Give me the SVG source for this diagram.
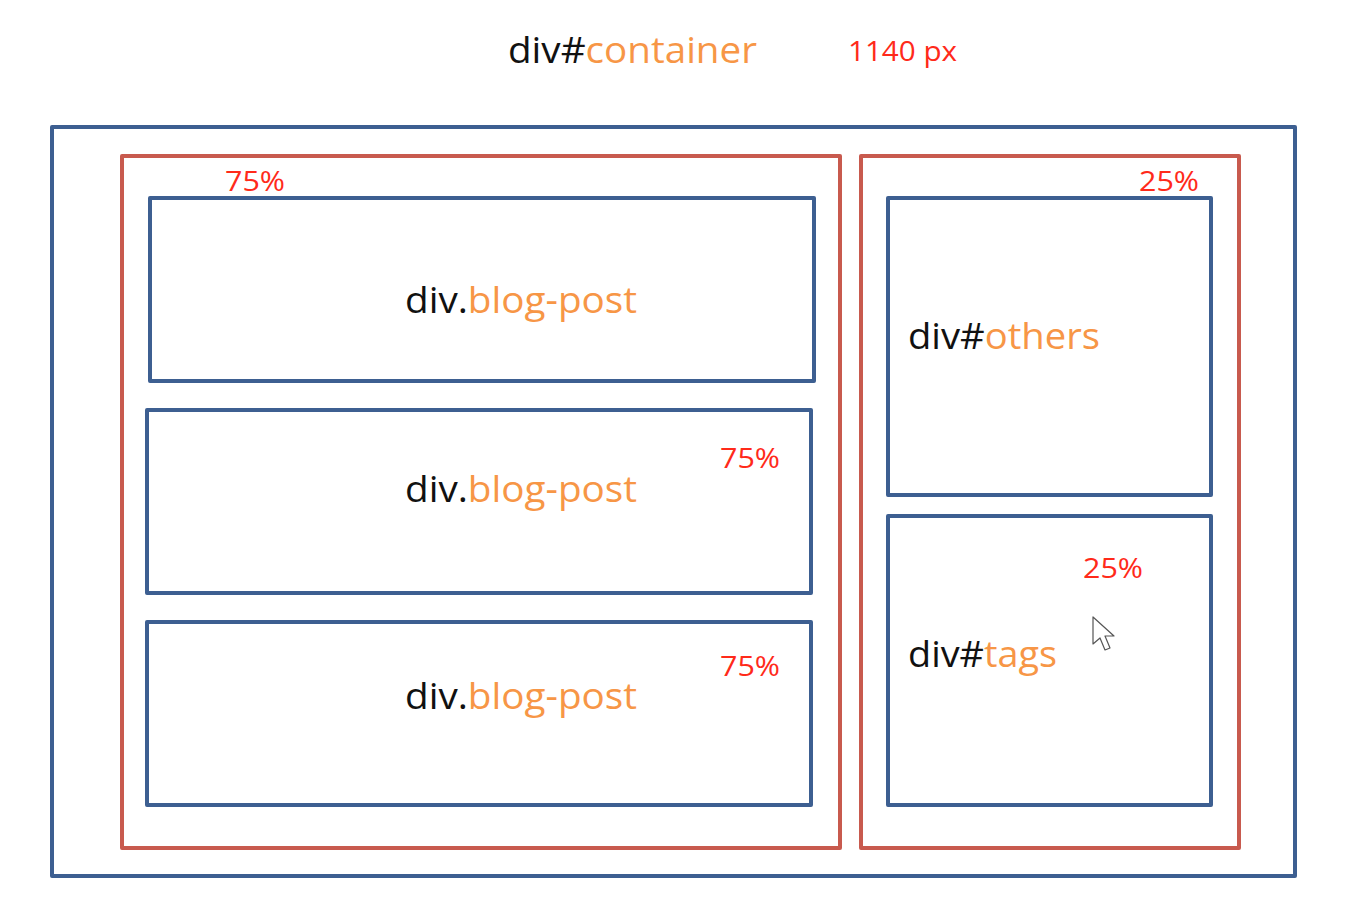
<svg xmlns="http://www.w3.org/2000/svg" width="1351" height="909" viewBox="0 0 1351 909">
<style>
.blue{fill:none;stroke:#3D5F91;stroke-width:4;stroke-linejoin:round}
.red{fill:none;stroke:#C85A4E;stroke-width:4;stroke-linejoin:round}
.lbl{font-family:"Open Sans","Noto Sans",sans-serif;font-size:36px;fill:#111111}
.or{fill:#F79646}
.pct{font-family:"Open Sans","Noto Sans",sans-serif;font-size:27px;fill:#FF2A1A}
</style>
<rect width="1351" height="909" fill="#FFFFFF"/>
<g id="title">
<text class="lbl" x="508" y="63" textLength="249" lengthAdjust="spacingAndGlyphs">div#<tspan class="or">container</tspan></text>
<text class="pct" x="848" y="61" textLength="109" lengthAdjust="spacingAndGlyphs">1140 px</text>
</g>
<g id="container">
<rect class="blue" x="52" y="127" width="1243" height="749"/>
</g>
<g id="main">
<rect class="red" x="122" y="156" width="718" height="692"/>
<text class="pct" x="225" y="191" textLength="60" lengthAdjust="spacingAndGlyphs">75%</text>
</g>
<g id="sidebar">
<rect class="red" x="861" y="156" width="378" height="692"/>
<text class="pct" x="1139" y="191" textLength="60" lengthAdjust="spacingAndGlyphs">25%</text>
</g>
<g id="blog-post-1">
<rect class="blue" x="150" y="198" width="664" height="183"/>
<text class="lbl" x="405" y="313" textLength="232" lengthAdjust="spacingAndGlyphs">div.<tspan class="or">blog-post</tspan></text>
</g>
<g id="blog-post-2">
<rect class="blue" x="147" y="410" width="664" height="183"/>
<text class="lbl" x="405" y="502" textLength="232" lengthAdjust="spacingAndGlyphs">div.<tspan class="or">blog-post</tspan></text>
<text class="pct" x="720" y="468" textLength="60" lengthAdjust="spacingAndGlyphs">75%</text>
</g>
<g id="blog-post-3">
<rect class="blue" x="147" y="622" width="664" height="183"/>
<text class="lbl" x="405" y="709" textLength="232" lengthAdjust="spacingAndGlyphs">div.<tspan class="or">blog-post</tspan></text>
<text class="pct" x="720" y="676" textLength="60" lengthAdjust="spacingAndGlyphs">75%</text>
</g>
<g id="others">
<rect class="blue" x="888" y="198" width="323" height="297"/>
<text class="lbl" x="908" y="349" textLength="192" lengthAdjust="spacingAndGlyphs">div#<tspan class="or">others</tspan></text>
</g>
<g id="tags">
<rect class="blue" x="888" y="516" width="323" height="289"/>
<text class="lbl" x="908" y="667" textLength="149" lengthAdjust="spacingAndGlyphs">div#<tspan class="or">tags</tspan></text>
<text class="pct" x="1083" y="578" textLength="60" lengthAdjust="spacingAndGlyphs">25%</text>
</g>
<g id="cursor">
<path d="M1093 617 L1093 644 L1100 638 L1105 650 L1110 648 L1105 636 L1114 636 Z" fill="#FFFFFF" stroke="#555555" stroke-width="1.2" stroke-linejoin="round"/>
</g>
</svg>
